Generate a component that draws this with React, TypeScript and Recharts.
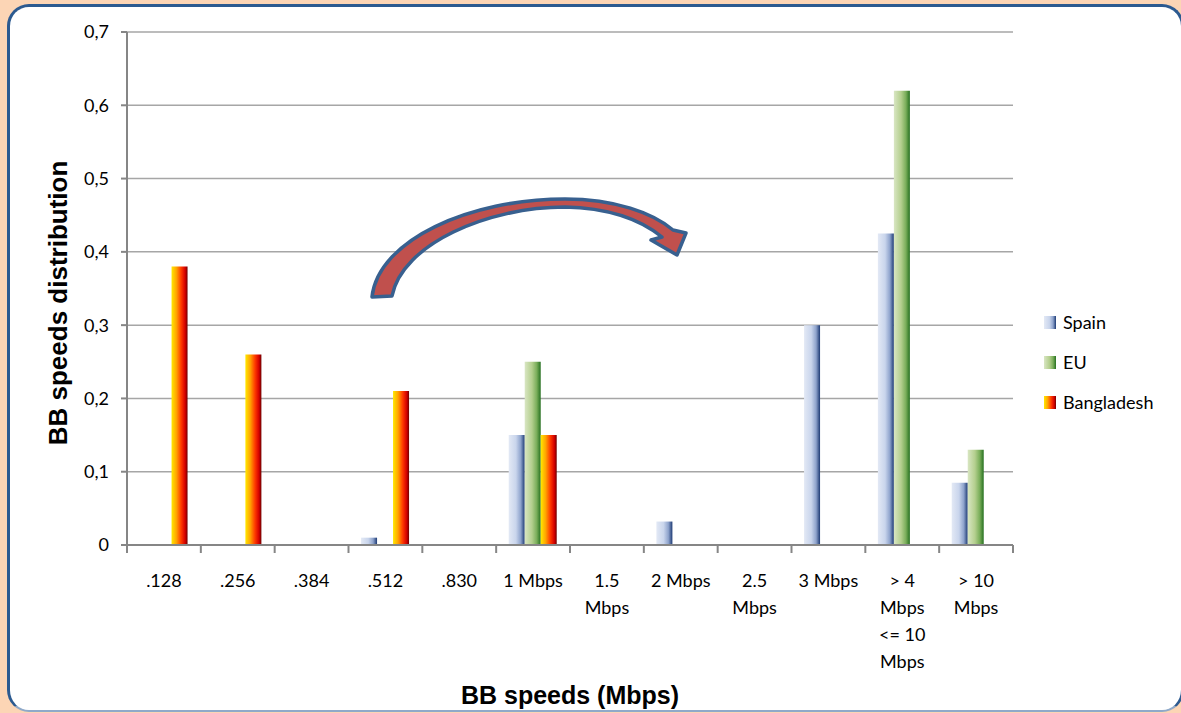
import React from "react";
import { BarChart, Bar, XAxis, YAxis, CartesianGrid, Legend } from "recharts";

// Speed buckets (Mbps) and share of connections per region
const categories = [
  ".128",
  ".256",
  ".384",
  ".512",
  ".830",
  "1 Mbps",
  "1.5\nMbps",
  "2 Mbps",
  "2.5\nMbps",
  "3 Mbps",
  "> 4\nMbps\n<= 10\nMbps",
  "> 10\nMbps",
];
const spain = [0, 0, 0, 0.01, 0, 0.15, 0, 0.032, 0, 0.3, 0.425, 0.085];
const eu = [0, 0, 0, 0, 0, 0.25, 0, 0, 0, 0, 0.62, 0.13];
const bangladesh = [0.38, 0.26, 0, 0.21, 0, 0.15, 0, 0, 0, 0, 0, 0];
const yTicks = [0, 0.1, 0.2, 0.3, 0.4, 0.5, 0.6, 0.7];

const data = categories.map((name, i) => ({
  name,
  spain: spain[i],
  eu: eu[i],
  bangladesh: bangladesh[i],
}));

// gradient stops, left to right across each bar
const series = [
  {
    key: "spain",
    name: "Spain",
    id: "gradSpain",
    stops: [
      [0, "#e3e9f5"],
      [0.45, "#c9d5ec"],
      [0.75, "#8ea3cc"],
      [1, "#1d3a74"],
    ],
  },
  {
    key: "eu",
    name: "EU",
    id: "gradEu",
    stops: [
      [0, "#d9e6c3"],
      [0.45, "#b4cf8e"],
      [0.75, "#7aae5a"],
      [1, "#267020"],
    ],
  },
  {
    key: "bangladesh",
    name: "Bangladesh",
    id: "gradBd",
    stops: [
      [0, "#ffe800"],
      [0.3, "#ffa600"],
      [0.6, "#ff3a00"],
      [0.85, "#d40000"],
      [1, "#6e0000"],
    ],
  },
];

const W = 1181;
const H = 713;
const PLOT_LEFT = 127;
const PLOT_TOP = 32;
const PLOT_BOTTOM = 545;
const PLOT_RIGHT = 1013;
const CAT_W = (PLOT_RIGHT - PLOT_LEFT) / categories.length;
const AXIS_GREY = "#868686";
const LABEL_FONT = "Lato, 'Open Sans', sans-serif";
const TITLE_FONT = "'Liberation Sans', Arial, sans-serif";

const fmtY = (v: number) => (v === 0 ? "0" : v.toFixed(1).replace(".", ","));

// category label plus tick marks on the category boundaries
const CategoryTick = (props: any) => {
  const { x, payload, index } = props;
  const half = payload && payload.offset ? payload.offset : CAT_W / 2;
  const lines = String(payload.value).split("\n");
  const last = index === categories.length - 1;
  return (
    <g>
      <line x1={x - half} x2={x - half} y1={PLOT_BOTTOM} y2={PLOT_BOTTOM + 8} stroke={AXIS_GREY} strokeWidth={2} />
      {last && (
        <line x1={x + half} x2={x + half} y1={PLOT_BOTTOM} y2={PLOT_BOTTOM + 8} stroke={AXIS_GREY} strokeWidth={2} />
      )}
      <text x={x} y={PLOT_BOTTOM + 42} textAnchor="middle" fontSize={18} fontFamily={LABEL_FONT} fill="#000">
        {lines.map((l, i) => (
          <tspan key={i} x={x} dy={i === 0 ? 0 : 27}>
            {l}
          </tspan>
        ))}
      </text>
    </g>
  );
};

const LegendBox = () => (
  <div style={{ fontFamily: LABEL_FONT, fontSize: 18, color: "#000" }}>
    {series.map((s) => (
      <div key={s.key} style={{ display: "flex", alignItems: "center", height: 40 }}>
        <div
          style={{
            width: 12,
            height: 13,
            marginRight: 7,
            background: `linear-gradient(to right, ${s.stops.map(([o, c]) => `${c} ${(o as number) * 100}%`).join(", ")})`,
          }}
        />
        <span>{s.name}</span>
      </div>
    ))}
  </div>
);

// curved arrow drawn over the plot
const CurvedArrow = () => (
  <svg width={W} height={H} style={{ position: "absolute", left: 0, top: 0, pointerEvents: "none" }}>
    <path
      d="M 372 297 C 378 240, 470 199, 565 199 C 615 199, 653 213, 673 230 L 686 233 L 677 255 L 651 240 L 662 237 C 641 220, 610 208, 565 207 C 488 207, 402 244, 392 296 Z"
      fill="#c0504d"
      stroke="#38608f"
      strokeWidth={3.5}
      strokeLinejoin="round"
    />
  </svg>
);

export default function App() {
  return (
    <div style={{ position: "absolute", left: 0, top: 0, width: W, height: H, background: "#fcd5b5", overflow: "hidden" }}>
      <div
        style={{
          position: "absolute",
          left: 7,
          top: 4,
          width: 1177,
          height: 708,
          background: "#fff",
          borderTop: "3px solid #2c5a90",
          borderLeft: "3px solid #2c5a90",
          borderRight: "3px solid #2c5a90",
          borderBottom: "2px solid #8fa9c9",
          borderRadius: 22,
          boxSizing: "border-box",
        }}
      />
      <div style={{ position: "absolute", left: 0, top: 0 }}>
        <BarChart
          width={W}
          height={H}
          data={data}
          margin={{ top: PLOT_TOP, right: W - PLOT_RIGHT, bottom: 0, left: PLOT_LEFT - 80 }}
          barCategoryGap="17%"
          barGap={0}
        >
          <defs>
            {series.map((s) => (
              <linearGradient key={s.id} id={s.id} x1="0" y1="0" x2="1" y2="0">
                {s.stops.map(([o, c], i) => (
                  <stop key={i} offset={o as number} stopColor={c as string} />
                ))}
              </linearGradient>
            ))}
          </defs>
          <CartesianGrid vertical={false} stroke="#a6a6a6" strokeWidth={1.5} />
          <XAxis
            dataKey="name"
            interval={0}
            height={H - PLOT_BOTTOM}
            tickLine={false}
            axisLine={{ stroke: AXIS_GREY, strokeWidth: 2 }}
            tick={<CategoryTick />}
            label={{
              content: ({ viewBox }: any) => (
                <text
                  x={viewBox.x + viewBox.width / 2}
                  y={PLOT_BOTTOM + 150}
                  textAnchor="middle"
                  dominantBaseline="central"
                  fontFamily={TITLE_FONT}
                  fontWeight="bold"
                  fontSize={25}
                  fill="#000"
                >
                  BB speeds (Mbps)
                </text>
              ),
            }}
          />
          <YAxis
            width={80}
            domain={[0, 0.7]}
            ticks={yTicks}
            interval={0}
            tickFormatter={fmtY}
            tickSize={6}
            tickMargin={12}
            tick={{ fontSize: 18, fontFamily: LABEL_FONT, fill: "#000" }}
            tickLine={{ stroke: AXIS_GREY, strokeWidth: 2 }}
            axisLine={{ stroke: AXIS_GREY, strokeWidth: 2 }}
            label={{
              content: () => {
                const cx = 58;
                const cy = 303;
                return (
                  <text
                    x={cx}
                    y={cy}
                    transform={`rotate(-90 ${cx} ${cy})`}
                    textAnchor="middle"
                    dominantBaseline="central"
                    fontFamily={TITLE_FONT}
                    fontWeight="bold"
                    fontSize={26}
                    fill="#000"
                  >
                    BB speeds distribution
                  </text>
                );
              },
            }}
          />
          <Legend
            layout="vertical"
            align="center"
            verticalAlign="middle"
            content={<LegendBox />}
            wrapperStyle={{ left: 1044, top: 302, width: 140 }}
          />
          {series.map((s) => (
            <Bar key={s.key} dataKey={s.key} name={s.name} fill={`url(#${s.id})`} isAnimationActive={false} />
          ))}
        </BarChart>
      </div>
      <CurvedArrow />
    </div>
  );
}
